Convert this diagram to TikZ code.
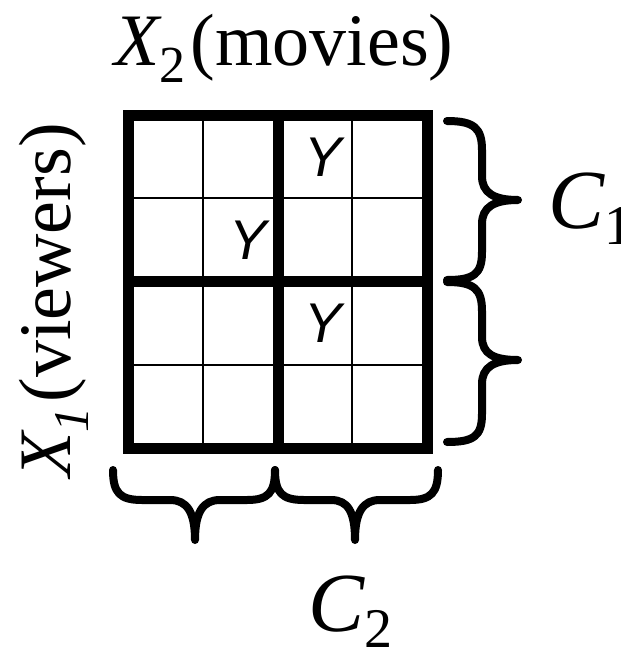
\documentclass[tikz,border=0pt]{standalone}
\usepackage{fontspec}
\setmainfont{Liberation Serif}
\newfontfamily\ysans{Liberation Sans}
\begin{document}
\begin{tikzpicture}[x=1pt,y=-1pt,
  thickline/.style={line width=11pt},
  thinline/.style={line width=2.2pt},
  bracestyle/.style={line width=8pt, line cap=round, line join=round},
  ylabel/.style={font=\ysans\itshape\fontsize{56}{56}\selectfont, inner sep=0pt},
  biglabel/.style={font=\fontsize{74}{74}\selectfont, inner sep=0pt},
  clabel/.style={font=\fontsize{84}{84}\selectfont, inner sep=0pt}]
\useasboundingbox (0,0) rectangle (621,648);
% thin grid lines
\draw[thinline] (203,115) -- (203,448);
\draw[thinline] (352,115) -- (352,448);
\draw[thinline] (128,198) -- (427,198);
\draw[thinline] (128,365) -- (427,365);
% thick grid lines
\draw[thickline] (278,115) -- (278,448);
\draw[thickline] (128,281) -- (427,281);
\draw[thickline] (128,115) rectangle (427,448);
% Y entries
\node[ylabel] (y1) at (323,157) {Y};
\node[ylabel] (y2) at (248,240) {Y};
\node[ylabel] (y3) at (323,323) {Y};
% right braces
\draw[bracestyle] (447,121) .. controls (474,121) and (482,128) .. (482,150) -- (482,176)
  .. controls (482,193) and (494,200) .. (518,200)
  .. controls (494,200) and (482,207) .. (482,224) -- (482,252)
  .. controls (482,274) and (474,280) .. (447,280);
\draw[bracestyle] (447,282) .. controls (474,282) and (482,289) .. (482,311) -- (482,337)
  .. controls (482,354) and (494,360) .. (518,360)
  .. controls (494,360) and (482,367) .. (482,384) -- (482,414)
  .. controls (482,436) and (474,442) .. (447,442);
% bottom braces
\draw[bracestyle] (113,470) .. controls (113,493) and (120,500) .. (142,500) -- (170,500)
  .. controls (187,500) and (195,512) .. (195,540)
  .. controls (195,512) and (203,500) .. (220,500) -- (247,500)
  .. controls (268,500) and (275,493) .. (275,470);
\draw[bracestyle] (275,470) .. controls (275,493) and (282,500) .. (304,500) -- (331,500)
  .. controls (348,500) and (355,512) .. (355,540)
  .. controls (355,512) and (363,500) .. (380,500) -- (410,500)
  .. controls (431,500) and (438,493) .. (438,470);
% labels
\node[biglabel, anchor=base west] (x2) at (114,65)
  {\itshape X\upshape\raisebox{-17pt}{\fontsize{52}{52}\selectfont 2}\hspace{5pt}(movies)};
\node[biglabel, anchor=base west, rotate=90] (x1) at (70,478)
  {\itshape X\raisebox{-18pt}{\fontsize{50}{50}\selectfont 1}\upshape\hspace{5pt}(viewers)};
\node[clabel, anchor=base west] (c1) at (548,228)
  {\itshape C\upshape\raisebox{-16pt}{\fontsize{56}{56}\selectfont 1}};
\node[clabel, anchor=base west] (c2) at (308,631)
  {\itshape C\upshape\raisebox{-16pt}{\fontsize{56}{56}\selectfont 2}};
\end{tikzpicture}
\end{document}
